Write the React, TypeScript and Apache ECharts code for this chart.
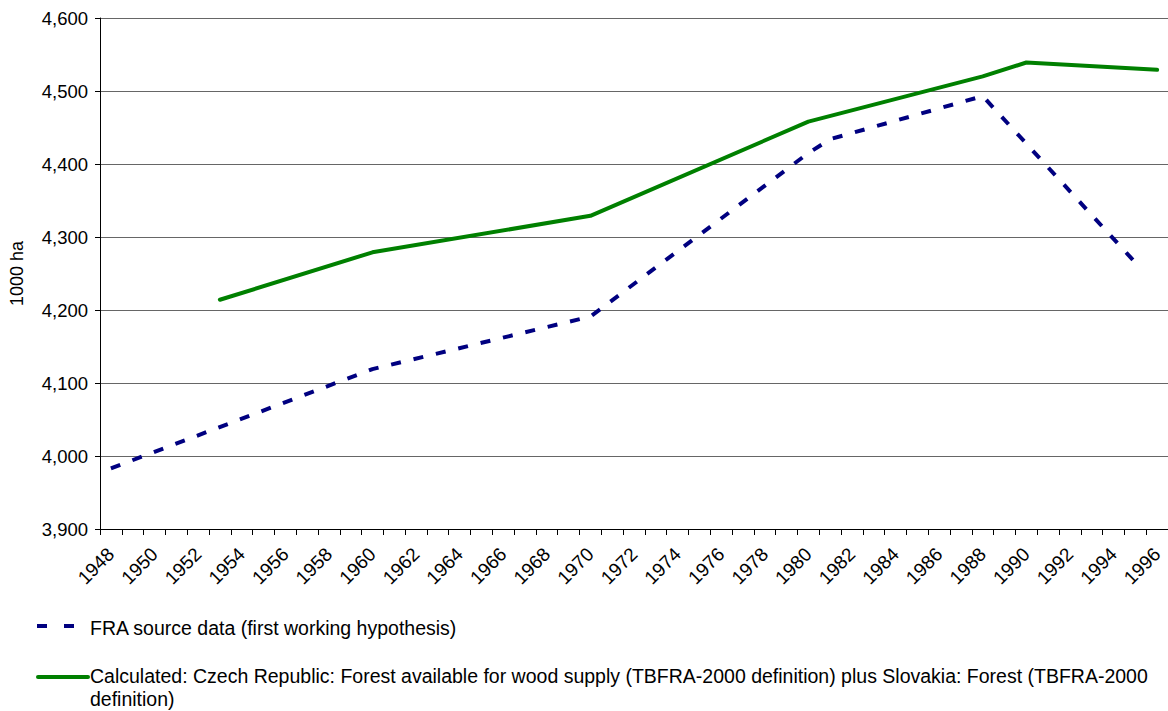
import React, { useEffect, useRef } from "react";
import * as echarts from "echarts";

const years = [
  "1948", "1949", "1950", "1951", "1952", "1953", "1954", "1955", "1956", "1957",
  "1958", "1959", "1960", "1961", "1962", "1963", "1964", "1965", "1966", "1967",
  "1968", "1969", "1970", "1971", "1972", "1973", "1974", "1975", "1976", "1977",
  "1978", "1979", "1980", "1981", "1982", "1983", "1984", "1985", "1986", "1987",
  "1988", "1989", "1990", "1991", "1992", "1993", "1994", "1995", "1996",
];

const fraYears = ["1948", "1960", "1970", "1980", "1981", "1988", "1995"];
const fraValues = [3983, 4119, 4191, 4415, 4434, 4493, 4265];

const calcYears = ["1953", "1960", "1970", "1980", "1988", "1990", "1996"];
const calcValues = [4214, 4279, 4329, 4458, 4520, 4539, 4529];

const yMin = 3900;
const yMax = 4600;
const yStep = 100;

const fraLabel = "FRA source data (first working hypothesis)";
const calcLabel =
  "Calculated: Czech Republic: Forest available for wood supply (TBFRA-2000 definition) plus Slovakia: Forest (TBFRA-2000\ndefinition)";
const yName = "1000 ha";

const FONT = "'Liberation Sans', Arial, sans-serif";

export default function App() {
  const ref = useRef<HTMLDivElement>(null);

  useEffect(() => {
    document.body.style.margin = "0";
    if (!ref.current) return;
    const chart = echarts.init(ref.current, undefined, { renderer: "svg" });
    chart.setOption({
      animation: false,
      backgroundColor: "#ffffff",
      textStyle: { fontFamily: FONT },
      grid: { left: 100, top: 18, width: 1075, height: 511, containLabel: false },
      xAxis: {
        type: "category",
        data: years,
        boundaryGap: true,
        axisLine: { lineStyle: { color: "#000000", width: 1 } },
        axisTick: { show: true, interval: 0, length: 6, lineStyle: { color: "#000000" } },
        axisLabel: {
          interval: 1,
          rotate: 45,
          margin: 22,
          fontSize: 19,
          color: "#000000",
          fontFamily: FONT,
        },
        splitLine: { show: false },
      },
      yAxis: {
        type: "value",
        min: yMin,
        max: yMax,
        interval: yStep,
        name: yName,
        nameLocation: "middle",
        nameRotate: 90,
        nameGap: 74,
        nameTextStyle: { fontSize: 18, color: "#000000", fontFamily: FONT },
        axisLine: { show: true, lineStyle: { color: "#000000", width: 1 } },
        axisTick: { show: true, length: 5, lineStyle: { color: "#000000" } },
        axisLabel: {
          fontSize: 18.5,
          color: "#000000",
          margin: 12,
          fontFamily: FONT,
          formatter: (v: number) => v.toLocaleString("en-US"),
        },
        splitLine: { show: true, lineStyle: { color: "#666666", width: 1 } },
      },
      series: [
        {
          name: fraLabel,
          type: "line",
          data: fraYears.map((y, i) => [y, fraValues[i]]),
          showSymbol: false,
          symbol: "none",
          lineStyle: { color: "#000080", width: 4, type: [10, 13] },
          z: 3,
        },
        {
          name: "Calculated",
          type: "line",
          data: calcYears.map((y, i) => [y, calcValues[i]]),
          showSymbol: false,
          symbol: "none",
          lineStyle: { color: "#008000", width: 4, cap: "round", join: "round" },
          z: 4,
        },
      ],
      graphic: [
        {
          type: "line",
          shape: { x1: 37, y1: 626, x2: 75, y2: 626 },
          style: { stroke: "#000080", lineWidth: 4, lineDash: [10, 17] },
        },
        {
          type: "text",
          x: 90,
          y: 628,
          style: {
            text: fraLabel,
            fontSize: 19.5,
            fontFamily: FONT,
            fill: "#000000",
            verticalAlign: "middle",
          },
        },
        {
          type: "line",
          shape: { x1: 38, y1: 677, x2: 88, y2: 677 },
          style: { stroke: "#008000", lineWidth: 4, lineCap: "round" },
        },
        {
          type: "text",
          x: 90,
          y: 665,
          style: {
            text: calcLabel,
            fontSize: 19.5,
            lineHeight: 22.5,
            fontFamily: FONT,
            fill: "#000000",
            verticalAlign: "top",
          },
        },
      ],
    });
    return () => chart.dispose();
  }, []);

  return <div ref={ref} style={{ width: 1168, height: 711 }} />;
}
